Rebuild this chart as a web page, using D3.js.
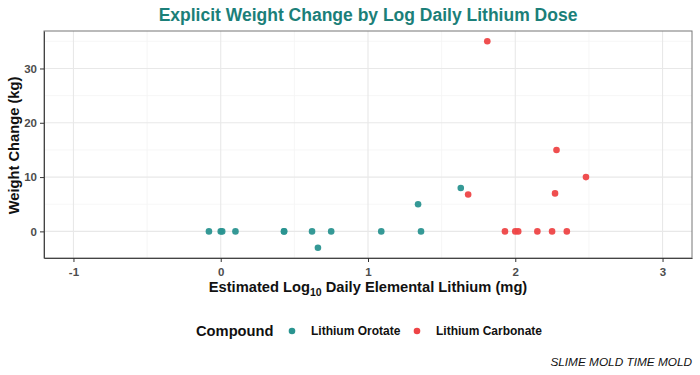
<!DOCTYPE html>
<html>
<head>
<meta charset="utf-8">
<script src="https://cdn.jsdelivr.net/npm/d3@7"></script>
<style>
  body { margin: 0; background: #fff; }
  svg { font-family: "Liberation Sans", Arial, sans-serif; }
</style>
</head>
<body>
<svg id="chart" width="700" height="375"></svg>
<script>
// Data
const orotateDose = [-0.08, 0.0, 0.01, 0.10, 0.43, 0.43, 0.62, 0.66, 0.75, 1.09, 1.34, 1.36, 1.63];
const orotateWeight = [0, 0, 0, 0, 0, 0, 0, -3, 0, 0, 5, 0, 8];
const carbonateDose = [1.68, 1.81, 1.93, 2.0, 2.02, 2.15, 2.25, 2.27, 2.28, 2.35, 2.48];
const carbonateWeight = [6.8, 35, 0, 0, 0, 0, 0, 7, 15, 0, 10];
const compounds = ["Lithium Orotate", "Lithium Carbonate"];
const compoundColors = ["#2a9490", "#ee4446"];
const xTicks = [-1, 0, 1, 2, 3];
const yTicks = [0, 10, 20, 30];

const svg = d3.select("#chart");
const margin = {top: 31, right: 8, bottom: 117, left: 44};
const width = 700 - margin.left - margin.right;
const height = 375 - margin.top - margin.bottom;

const x = d3.scaleLinear().domain([-1.2, 3.2]).range([0, width]);
const y = d3.scaleLinear().domain([-4.9, 36.9]).range([height, 0]);
const color = d3.scaleOrdinal().domain(compounds).range(compoundColors);

const g = svg.append("g").attr("transform", `translate(${margin.left},${margin.top})`);

// minor grid
const xMinor = [-0.5, 0.5, 1.5, 2.5];
const yMinor = [-5, 5, 15, 25, 35].filter(v => v >= y.domain()[0] && v <= y.domain()[1]);
g.selectAll(".xminor").data(xMinor).enter().append("line")
  .attr("x1", d => x(d)).attr("x2", d => x(d)).attr("y1", 0).attr("y2", height)
  .attr("stroke", "#f4f4f4").attr("stroke-width", 0.8);
g.selectAll(".yminor").data(yMinor).enter().append("line")
  .attr("y1", d => y(d)).attr("y2", d => y(d)).attr("x1", 0).attr("x2", width)
  .attr("stroke", "#f4f4f4").attr("stroke-width", 0.8);
// major grid
g.selectAll(".xmajor").data(xTicks).enter().append("line")
  .attr("x1", d => x(d)).attr("x2", d => x(d)).attr("y1", 0).attr("y2", height)
  .attr("stroke", "#e8e8e8").attr("stroke-width", 1.1);
g.selectAll(".ymajor").data(yTicks).enter().append("line")
  .attr("y1", d => y(d)).attr("y2", d => y(d)).attr("x1", 0).attr("x2", width)
  .attr("stroke", "#e8e8e8").attr("stroke-width", 1.1);

// panel border
g.append("rect").attr("width", width).attr("height", height)
  .attr("fill", "none").attr("stroke", "#777").attr("stroke-width", 1);

// points
const rows = [];
orotateDose.forEach((d, i) => rows.push({dose: d, weight: orotateWeight[i], compound: compounds[0]}));
carbonateDose.forEach((d, i) => rows.push({dose: d, weight: carbonateWeight[i], compound: compounds[1]}));
g.selectAll(".pt").data(rows).enter().append("circle")
  .attr("cx", d => x(d.dose)).attr("cy", d => y(d.weight)).attr("r", 3.3)
  .attr("fill", d => color(d.compound)).attr("fill-opacity", 0.95);

// axes
const xAxis = g.append("g").attr("transform", `translate(0,${height})`)
  .call(d3.axisBottom(x).tickValues(xTicks).tickSize(4).tickSizeOuter(0).tickFormat(d3.format("d")));
const yAxis = g.append("g")
  .call(d3.axisLeft(y).tickValues(yTicks).tickSize(4).tickSizeOuter(0));
[xAxis, yAxis].forEach(a => {
  a.select(".domain").attr("stroke", "#444");
  a.selectAll(".tick line").attr("stroke", "#333");
  a.selectAll(".tick text").attr("fill", "#4d4d4d").style("font-size", "11.5px").style("font-weight", "bold");
});
xAxis.selectAll(".tick text").attr("dy", "0.95em");
xAxis.selectAll(".tick text").text(d => d < 0 ? "-" + Math.abs(d) : d);

// title
svg.append("text").attr("x", margin.left + width / 2).attr("y", 21)
  .attr("text-anchor", "middle").attr("fill", "#1b7f79")
  .style("font-size", "17.5px").style("font-weight", "bold")
  .text("Explicit Weight Change by Log Daily Lithium Dose");

// axis titles
const xt = svg.append("text").attr("x", margin.left + width / 2).attr("y", 292)
  .attr("text-anchor", "middle").attr("fill", "#111")
  .style("font-size", "14.7px").style("font-weight", "bold");
xt.append("tspan").text("Estimated Log");
xt.append("tspan").attr("dy", 4).style("font-size", "10.5px").text("10");
xt.append("tspan").attr("dy", -4).text(" Daily Elemental Lithium (mg)");

svg.append("text")
  .attr("transform", `translate(19,${margin.top + height / 2 + 1}) rotate(-90)`)
  .attr("text-anchor", "middle").attr("fill", "#111")
  .style("font-size", "14.7px").style("font-weight", "bold")
  .text("Weight Change (kg)");

// legend
const legend = svg.append("g").attr("transform", "translate(196,331)");
legend.append("text").attr("x", 0).attr("y", 5).attr("fill", "#111")
  .style("font-size", "14.7px").style("font-weight", "bold").text("Compound");
const legendX = [96, 221];
compounds.forEach((c, i) => {
  legend.append("circle").attr("cx", legendX[i]).attr("cy", 0).attr("r", 3.3).attr("fill", color(c));
  legend.append("text").attr("x", legendX[i] + 19).attr("y", 4).attr("fill", "#111")
    .style("font-size", "12px").style("font-weight", "bold").text(c);
});

// caption
svg.append("text").attr("x", 692).attr("y", 366).attr("text-anchor", "end")
  .attr("fill", "#111").style("font-size", "11.8px").style("font-style", "italic")
  .text("SLIME MOLD TIME MOLD");
</script>
</body>
</html>
